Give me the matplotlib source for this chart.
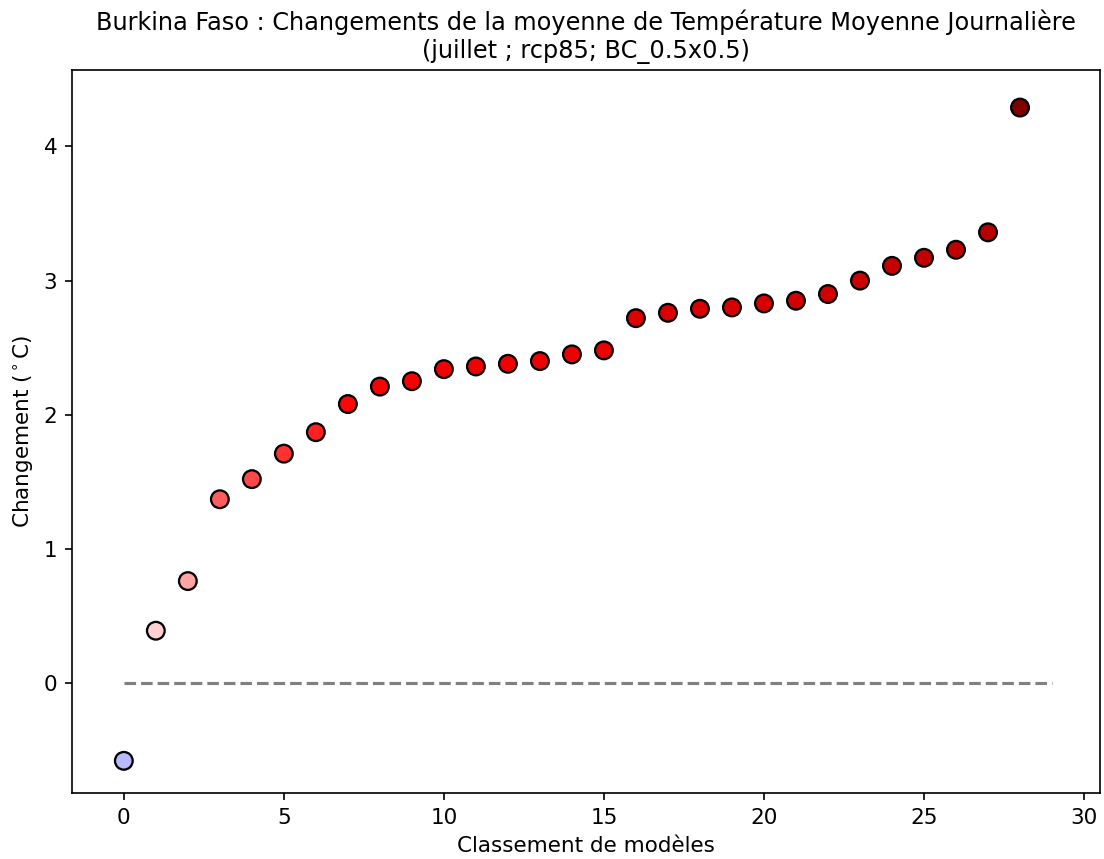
import numpy as np
import matplotlib
matplotlib.use('Agg')
from matplotlib import pyplot as plt
from matplotlib.colors import Normalize

# model ranking and change values (deg C)
rank = list(range(29))
change = [-0.58, 0.39, 0.76, 1.37, 1.52, 1.71, 1.87, 2.08, 2.21, 2.25,
          2.34, 2.36, 2.38, 2.40, 2.45, 2.48, 2.72, 2.76, 2.79, 2.80,
          2.83, 2.85, 2.90, 3.00, 3.11, 3.17, 3.23, 3.36, 4.29]

title = ("Burkina Faso : Changements de la moyenne de Température Moyenne Journalière\n"
         "(juillet ; rcp85; BC_0.5x0.5)")

plt.rcParams['font.size'] = 10.3

fig = plt.figure(figsize=(1104/150., 859/150.), dpi=150)
ax = fig.add_axes([0.0652, 0.0768, 0.9312, 0.8417])

vmax = max(abs(v) for v in change)
norm = Normalize(vmin=-vmax, vmax=vmax)

ax.hlines(0, 0, len(rank), colors='grey', linestyles='--', linewidth=1.5)
ax.scatter(rank, change, c=change, cmap='seismic', norm=norm, s=72,
           edgecolors='k', linewidths=1.1, zorder=3)

ax.set_xlim(-1.62, 30.5)
ax.set_ylim(-0.82, 4.57)
ax.set_title(title, fontsize=11.5)
ax.set_xlabel("Classement de modèles")
ax.set_ylabel(r"Changement ($^\circ$C)")

fig.savefig('out.png', dpi=150)
